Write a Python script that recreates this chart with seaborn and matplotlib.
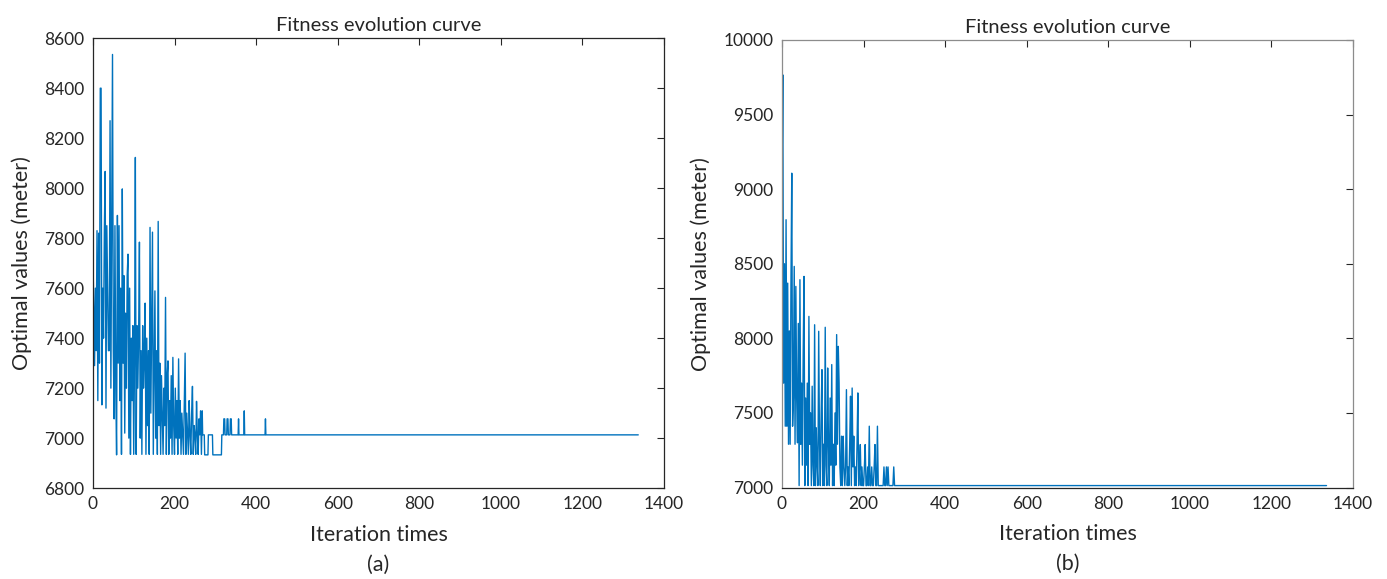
import numpy as np
import pandas as pd
import seaborn as sns
import matplotlib.pyplot as plt

# Panel (a): noisy early phase, one value every 2 iterations (0..268)
iter_a = list(range(0, 270, 2))
fit_a = [7730, 7530, 7290, 7600, 7350, 7830, 7150, 7820, 7300, 8400,
         8400, 7133, 7600, 7400, 7830, 8067, 7120, 7850, 7600, 7350,
         7350, 8270, 7200, 7900, 8535, 7350, 7077, 7850, 7200, 6933,
         7891, 7300, 7850, 7150, 7600, 6935, 7997, 7300, 7650, 7020,
         7500, 7200, 7650, 7736, 7000, 7600, 6935, 7400, 7150, 7450,
         6935, 7300, 8123, 6935, 7450, 7200, 7400, 7784, 7000, 7350,
         6935, 7450, 7200, 7300, 7540, 6935, 7400, 7050, 7350, 6935,
         7843, 7100, 7450, 7824, 6935, 7250, 7589, 7000, 7350, 6935,
         7867, 7050, 7300, 6935, 7250, 7100, 6935, 7200, 7050, 7563,
         6935, 7250, 7309, 6935, 7150, 7000, 7250, 6935, 7323, 7050,
         6935, 7200, 7000, 7150, 6935, 7317, 7000, 7150, 6935, 7100,
         7013, 6935, 7150, 7340, 6935, 7100, 7013, 6935, 7150, 7013,
         6935, 7100, 7207, 6935, 7050, 7013, 6935, 7147, 7013, 6935,
         7077, 7013, 7109, 6935, 7109]
# Panel (a): late phase as held values with run lengths (from iteration 270)
tail_a_vals = [7013, 6933, 7013, 6933, 7013, 7077, 7013, 7077, 7013, 7077,
               7013, 7077, 7013, 7109, 7013, 7077, 7013]
tail_a_runs = [5, 9, 11, 22, 5, 3, 5, 3, 5, 3, 17, 1, 13, 1, 51, 1, 914]

# Panel (b): noisy early phase, one value every 2 iterations (0..278)
iter_b = list(range(0, 280, 2))
fit_b = [9000, 9766, 7700, 8500, 7411, 8795, 7411, 8370, 7290, 8050,
         7290, 8370, 9107, 7411, 7600, 8482, 7290, 8348, 7600, 7300,
         8100, 7013, 8393, 7290, 7700, 7150, 7900, 8415, 7013, 7600,
         7150, 7700, 7013, 8147, 7290, 7500, 7013, 7679, 7150, 7013,
         8091, 7013, 7400, 7150, 7013, 8047, 7290, 7013, 7500, 7790,
         7013, 7290, 7013, 8074, 7150, 7013, 7801, 7290, 7013, 7600,
         7150, 7824, 7013, 7290, 7013, 7500, 7150, 8025, 7290, 7946,
         7701, 7138, 7013, 7344, 7013, 7344, 7138, 7013, 7138, 7656,
         7013, 7138, 7013, 7290, 7612, 7013, 7667, 7138, 7344, 7013,
         7138, 7013, 7290, 7634, 7013, 7138, 7288, 7013, 7138, 7013,
         7013, 7138, 7288, 7013, 7013, 7138, 7013, 7411, 7013, 7013,
         7138, 7013, 7013, 7138, 7288, 7013, 7013, 7411, 7013, 7013,
         7013, 7013, 7013, 7013, 7013, 7138, 7013, 7013, 7138, 7013,
         7138, 7013, 7013, 7013, 7013, 7013, 7013, 7138, 7013, 7013]
tail_b_vals = [7013]
tail_b_runs = [1057]

x_ticks = [0, 200, 400, 600, 800, 1000, 1200, 1400]
y_ticks_a = [6800, 7000, 7200, 7400, 7600, 7800, 8000, 8200, 8400, 8600]
y_ticks_b = [7000, 7500, 8000, 8500, 9000, 9500, 10000]


def build(iters, vals, tail_vals, tail_runs):
    tail_y = np.repeat(tail_vals, tail_runs)
    start = iters[-1] + 1
    tail_x = np.arange(start, start + len(tail_y))
    return pd.DataFrame({'iter': np.concatenate([iters, tail_x]),
                         'fit': np.concatenate([vals, tail_y])})


df_a = build(iter_a, fit_a, tail_a_vals, tail_a_runs)
df_b = build(iter_b, fit_b, tail_b_vals, tail_b_runs)

sns.set_style('white')
plt.rcParams['font.family'] = ['Lato', 'DejaVu Sans']

fig = plt.figure(figsize=(13.87, 5.79), dpi=100)
ax_a = fig.add_axes([0.067, 0.157, 0.4117, 0.777])
ax_b = fig.add_axes([0.5638, 0.158, 0.4117, 0.773])

panels = [(ax_a, df_a, y_ticks_a, '(a)', '#262626'),
          (ax_b, df_b, y_ticks_b, '(b)', '#8c8c8c')]

for ax, df, yt, tag, edge in panels:
    sns.lineplot(data=df, x='iter', y='fit', ax=ax, color='#0072BD',
                 linewidth=1.0, estimator=None, sort=False)
    ax.set_xlim(x_ticks[0], x_ticks[-1])
    ax.set_ylim(yt[0], yt[-1])
    ax.set_xticks(x_ticks)
    ax.set_yticks(yt)
    ax.set_xticklabels([str(v) for v in x_ticks], fontsize=12.5)
    ax.set_yticklabels([str(v) for v in yt], fontsize=12.5)
    ax.tick_params(direction='in', length=5, width=0.8, top=True, right=True,
                   pad=6, colors='#262626')
    for s in ax.spines.values():
        s.set_visible(True)
        s.set_linewidth(0.9)
        s.set_color(edge)
    ax.spines['bottom'].set_color('#262626')
    ax.set_title('Fitness evolution curve', fontsize=14.5, pad=5)
    ax.set_xlabel('Iteration times', fontsize=15.5, labelpad=9)
    ax.set_ylabel('Optimal values (meter)', fontsize=15.5, labelpad=9)
    ax.text(0.5, -0.171, tag, transform=ax.transAxes, ha='center', va='center',
            fontsize=15.5)

fig.savefig('out.png', dpi=100)
